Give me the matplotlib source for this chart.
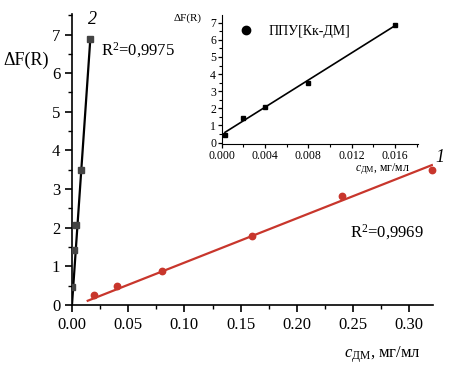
import matplotlib
matplotlib.use('Agg')
import matplotlib.pyplot as plt
import numpy as np
from matplotlib.lines import Line2D
from matplotlib.ticker import MultipleLocator

plt.rcParams['font.family'] = ['Liberation Serif', 'DejaVu Serif']
plt.rcParams['mathtext.fontset'] = 'custom'
plt.rcParams['mathtext.rm'] = 'Liberation Serif'
plt.rcParams['mathtext.it'] = 'Liberation Serif:italic'

# series 1 (red, circles)
c1 = [0.02, 0.04, 0.08, 0.16, 0.24, 0.32]
f1 = [0.25, 0.50, 0.87, 1.78, 2.82, 3.50]
fit1_x = [0.014, 0.32]
fit1_y = [0.11, 3.62]

# series 2 (black, squares)
c2 = [0.0003, 0.002, 0.004, 0.008, 0.016]
f2 = [0.47, 1.43, 2.07, 3.50, 6.88]
fit2_x = [0.0, 0.0163]
fit2_y = [0.0, 6.88]
fit2_in_x = [0.0003, 0.016]
fit2_in_y = [0.60, 6.83]

RED = '#c8362c'

fig = plt.figure(figsize=(4.51, 3.74), dpi=100)
fig.patch.set_facecolor('white')

ax = fig.add_axes([0.1596, 0.1845, 0.8004, 0.778])
ax.plot(fit1_x, fit1_y, color=RED, lw=1.6, zorder=2)
ax.plot(c1, f1, 'o', color=RED, ms=4.6, zorder=3, clip_on=False)
ax.plot(fit2_x, fit2_y, color='black', lw=1.6, zorder=2)
ax.plot(c2, f2, 's', color='#444444', ms=4.2, zorder=3)
ax.set_xlim(0, 0.321)
ax.set_ylim(0, 7.53)
ax.xaxis.set_major_locator(MultipleLocator(0.05))
ax.xaxis.set_minor_locator(MultipleLocator(0.025))
ax.yaxis.set_major_locator(MultipleLocator(1))
ax.yaxis.set_minor_locator(MultipleLocator(0.5))
ax.xaxis.set_major_formatter(matplotlib.ticker.FormatStrFormatter('%.2f'))
for s in ['top', 'right']:
    ax.spines[s].set_visible(False)
for s in ['left', 'bottom']:
    ax.spines[s].set_linewidth(1.2)
ax.tick_params(which='major', length=5, width=1.2, labelsize=12, direction='out')
ax.tick_params(which='minor', length=3, width=1.0, direction='out')

fig.text(26 / 451, 1 - 60 / 374, 'ΔF(R)', fontsize=13, ha='center', va='center')
fig.text(382 / 451, 1 - 355 / 374, r'$c_{\mathrm{ДМ}}$, мг/мл', fontsize=12,
         ha='center', va='center')
fig.text(92 / 451, 1 - 20 / 374, '2', fontsize=13, style='italic', ha='center', va='center')
fig.text(440 / 451, 1 - 157 / 374, '1', fontsize=13, style='italic', ha='center', va='center')
fig.text(101 / 451, 1 - 50 / 374, r'R$^{2}$=0,9975', fontsize=12, ha='left', va='center')
fig.text(350 / 451, 1 - 232 / 374, r'R$^{2}$=0,9969', fontsize=12, ha='left', va='center')

# inset
axi = fig.add_axes([0.4916, 0.615, 0.435, 0.345])
axi.plot(fit2_in_x, fit2_in_y, color='black', lw=1.2, zorder=2)
axi.plot(c2, f2, 's', color='black', ms=3, zorder=3)
axi.set_xlim(0, 0.0181)
axi.set_ylim(-0.08, 7.45)
axi.xaxis.set_major_locator(MultipleLocator(0.004))
axi.xaxis.set_minor_locator(MultipleLocator(0.002))
axi.yaxis.set_major_locator(MultipleLocator(1))
axi.yaxis.set_minor_locator(MultipleLocator(0.5))
axi.xaxis.set_major_formatter(matplotlib.ticker.FormatStrFormatter('%.3f'))
for s in ['top', 'right']:
    axi.spines[s].set_visible(False)
axi.tick_params(which='major', length=3, width=0.9, labelsize=8.5, pad=1)
axi.tick_params(which='minor', length=2, width=0.8)
axi.legend(handles=[Line2D([0], [0], marker='o', color='black', ls='none', ms=6,
                           label='ППУ[Кк-ДМ]')],
           loc='upper left', bbox_to_anchor=(-0.01, 1.02), frameon=False,
           fontsize=10, handletextpad=0.6)

fig.text(188 / 451, 1 - 18 / 374, 'ΔF(R)', fontsize=8, ha='center', va='center')
fig.text(382 / 451, 1 - 169 / 374, r'$c_{\mathrm{ДМ}}$, мг/мл', fontsize=8.5,
         ha='center', va='center')

fig.savefig('out.png', dpi=100)
